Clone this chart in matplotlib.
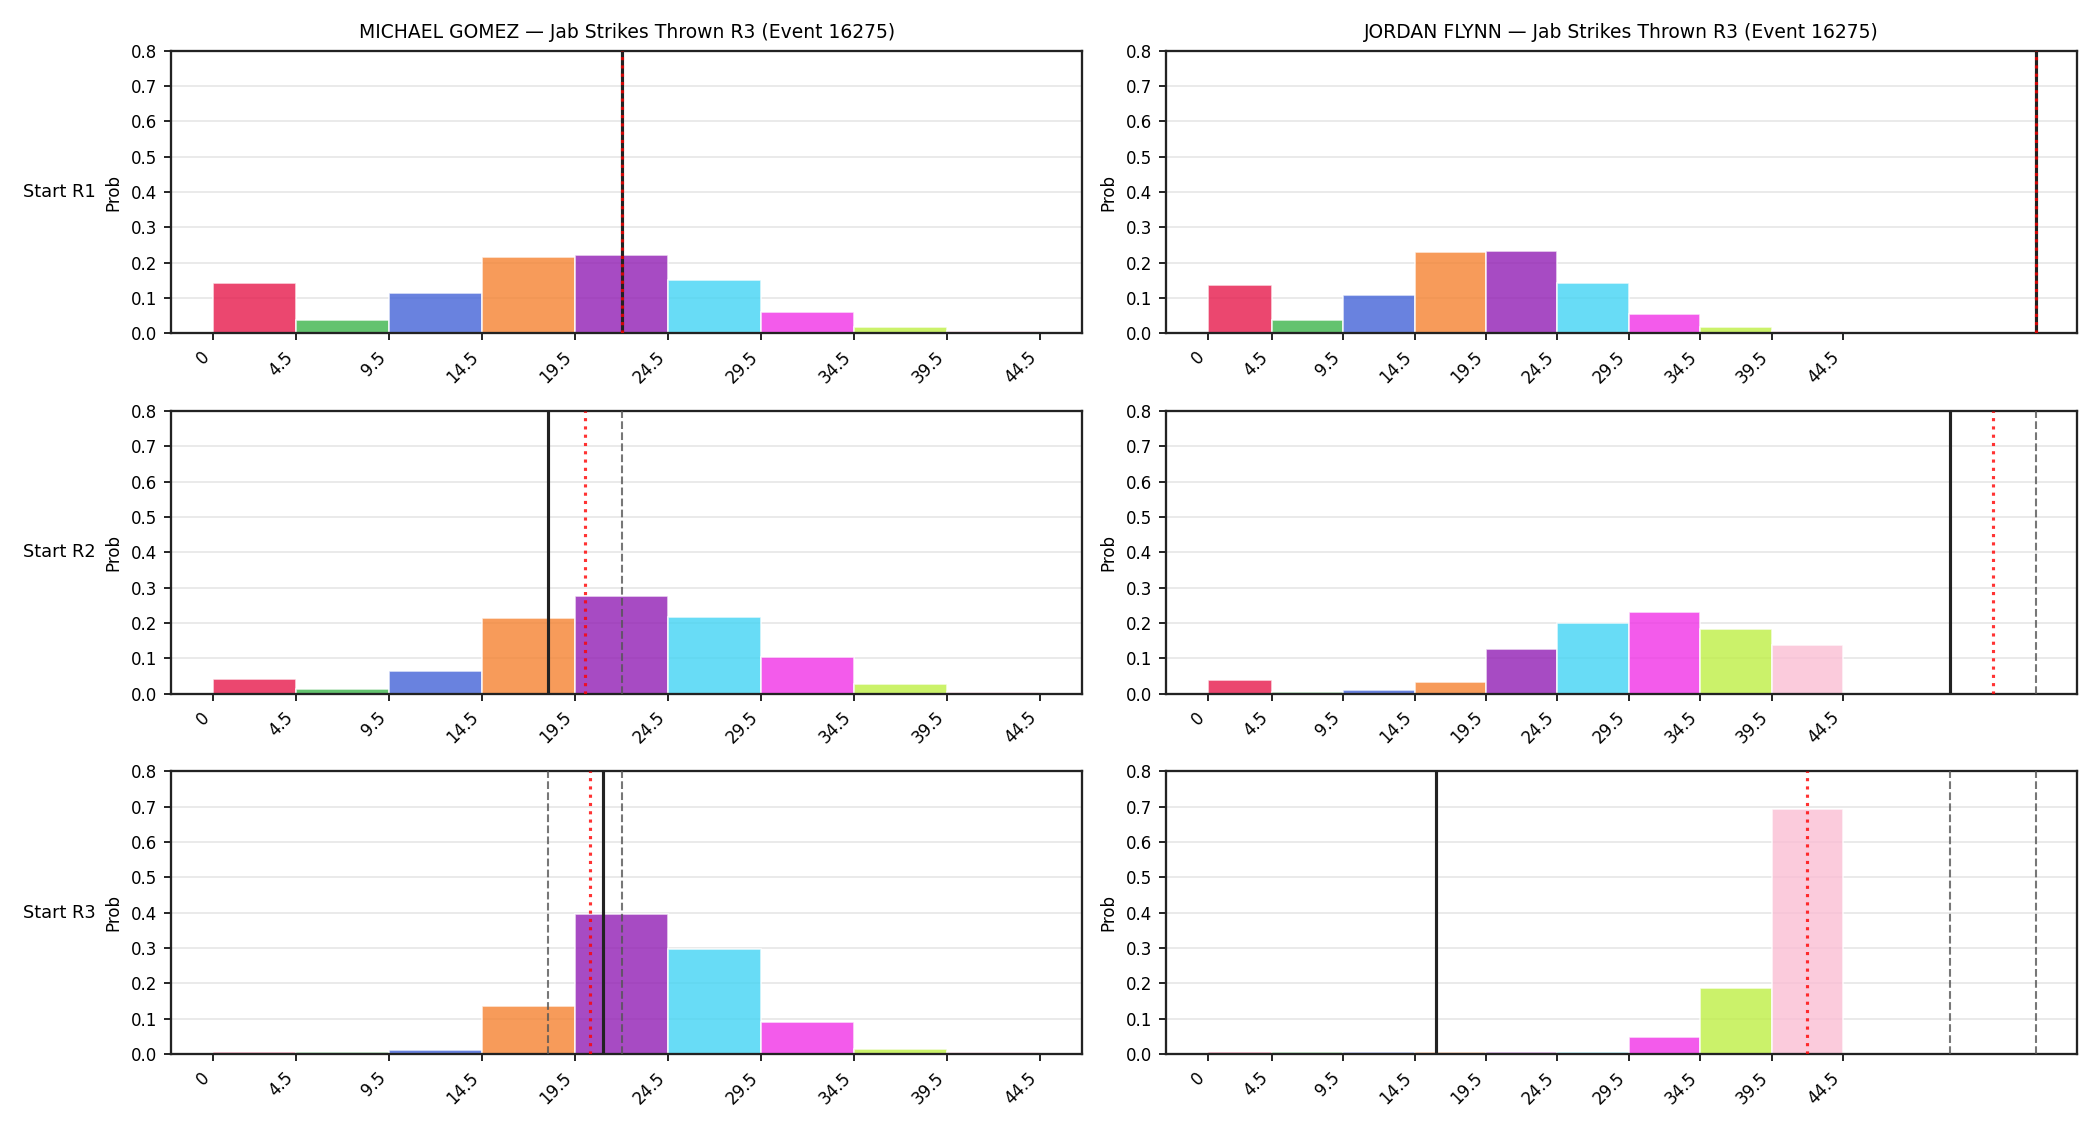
import matplotlib
matplotlib.use("Agg")
import matplotlib.pyplot as plt
import numpy as np

# bin edges shared by every panel
bin_edges = [0, 4.5, 9.5, 14.5, 19.5, 24.5, 29.5, 34.5, 39.5, 44.5]
tick_labels = ["0", "4.5", "9.5", "14.5", "19.5", "24.5", "29.5", "34.5", "39.5", "44.5"]
bin_colors = ["#e6194b", "#3cb44b", "#4363d8", "#f58231", "#911eb4",
              "#42d4f4", "#f032e6", "#bfef45", "#fabed4"]

fighters = ["MICHAEL GOMEZ", "JORDAN FLYNN"]
row_labels = ["Start R1", "Start R2", "Start R3"]

# probabilities per bin, [row][bin]
gomez_probs = [
    [0.143, 0.039, 0.115, 0.217, 0.222, 0.150, 0.061, 0.017, 0.006],
    [0.042, 0.013, 0.065, 0.214, 0.277, 0.217, 0.105, 0.028, 0.006],
    [0.007, 0.006, 0.011, 0.136, 0.396, 0.298, 0.090, 0.014, 0.006],
]
flynn_probs = [
    [0.137, 0.039, 0.109, 0.229, 0.232, 0.143, 0.056, 0.017, 0.006],
    [0.040, 0.006, 0.011, 0.034, 0.127, 0.201, 0.232, 0.184, 0.137],
    [0.006, 0.006, 0.006, 0.006, 0.006, 0.006, 0.048, 0.186, 0.694],
]

# marker lines per row: current (black), projection (red dotted), reference (gray dashed)
gomez_current = [22, 18, 21]
gomez_proj = [22, 20, 20.3]
gomez_refs = [[22], [22], [18, 22]]
flynn_current = [58, 52, 16]
flynn_proj = [58, 55, 42]
flynn_refs = [[58], [58], [52, 58]]

all_probs = [gomez_probs, flynn_probs]
all_current = [gomez_current, flynn_current]
all_proj = [gomez_proj, flynn_proj]
all_refs = [gomez_refs, flynn_refs]

fig, axes = plt.subplots(3, 2, figsize=(14, 7.5), dpi=150)
fig.subplots_adjust(left=0.0816, right=0.989, top=0.955, bottom=0.063,
                    wspace=0.093, hspace=0.274)

lefts = np.array(bin_edges[:-1])
widths = np.diff(bin_edges)

for col in range(2):
    for row in range(3):
        ax = axes[row, col]
        ax.bar(lefts, all_probs[col][row], width=widths, align="edge",
               color=bin_colors, alpha=0.8, edgecolor="white", linewidth=0.8,
               zorder=2)
        for r in all_refs[col][row]:
            ax.axvline(r, color="#555555", linestyle="--", linewidth=1.0,
                       alpha=0.8, zorder=3)
        ax.axvline(all_current[col][row], color="#222222", linewidth=1.5, zorder=4)
        ax.axvline(all_proj[col][row], color="red", linestyle=":", linewidth=1.5,
                   alpha=0.8, zorder=5)
        ax.set_ylim(0, 0.8)
        ax.set_yticks(np.arange(0, 0.81, 0.1))
        ax.set_xticks(bin_edges)
        ax.set_xticklabels(tick_labels, rotation=45, ha="right", fontsize=8)
        ax.tick_params(axis="y", labelsize=8)
        ax.grid(axis="y", color="#e6e6e6", linewidth=0.8, zorder=0)
        ax.set_axisbelow(True)
        ax.set_ylabel("Prob", fontsize=8)
        for s in ax.spines.values():
            s.set_linewidth(1.1)
            s.set_color("#222222")
        if row == 0:
            ax.set_title(f"{fighters[col]} — Jab Strikes Thrown R3 (Event 16275)",
                         fontsize=9)
        if col == 0:
            bb = ax.get_position()
            fig.text(0.011, (bb.y0 + bb.y1) / 2, row_labels[row],
                     fontsize=8.5, va="center", ha="left")

fig.savefig("out.png", dpi=150)
